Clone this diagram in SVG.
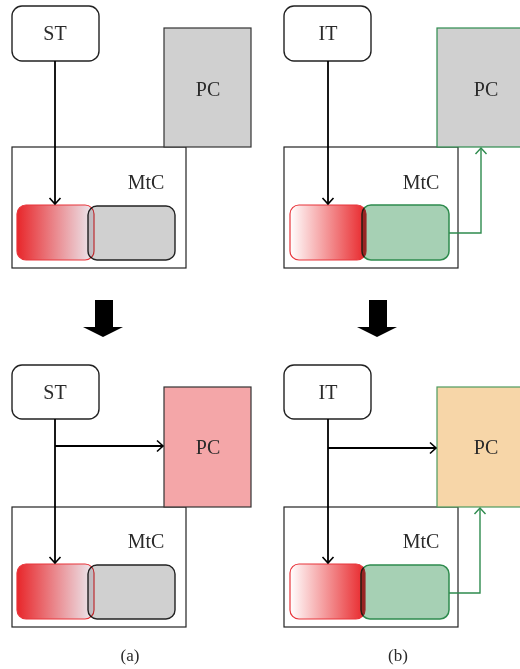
<svg xmlns="http://www.w3.org/2000/svg" width="520" height="669" viewBox="0 0 520 669">
<style>
text{font-family:"Liberation Serif","Times New Roman",serif;fill:#2a2a2a;text-anchor:middle}
.lbl{font-size:20px}
.node{fill:#fff;stroke:#222;stroke-width:1.4}
.mtc{fill:#fff;stroke:#222;stroke-width:1.2}
.pcg{fill:#d0d0d0;stroke:#333;stroke-width:1.2}
.red{stroke:#e8343a;stroke-width:1.2}
.gray{fill:#d0d0d0;stroke:#222;stroke-width:1.4;mix-blend-mode:multiply}
.green{fill:#a6d0b4;stroke:#2e8b4e;stroke-width:1.5;mix-blend-mode:multiply}
.blk{fill:none;stroke:#000;stroke-width:1.8}
.grn{fill:none;stroke:#2e8b4e;stroke-width:1.4}
.big{fill:#000}
</style>
<defs>
<linearGradient id="gA" x1="0" x2="1" y1="0" y2="0">
<stop offset="0" stop-color="#e8262a"/>
<stop offset="1" stop-color="#ececf2"/>
</linearGradient>
<linearGradient id="gB" x1="0" x2="1" y1="0" y2="0">
<stop offset="0" stop-color="#ffffff"/>
<stop offset="1" stop-color="#e8262a"/>
</linearGradient>
<marker id="ab" markerWidth="14" markerHeight="14" refX="10" refY="7" orient="auto" markerUnits="userSpaceOnUse">
<path d="M4,1.5 L10,7 L4,12.5" fill="none" stroke="#000" stroke-width="1.6"/>
</marker>
<marker id="ag" markerWidth="14" markerHeight="14" refX="10" refY="7" orient="auto" markerUnits="userSpaceOnUse">
<path d="M4,1.5 L10,7 L4,12.5" fill="none" stroke="#2e8b4e" stroke-width="1.4"/>
</marker>
</defs>

<!-- Panel (a) top -->
<g id="a1-mtc"><rect class="mtc" x="12" y="147" width="174" height="121"/><text class="lbl" x="146" y="189">MtC</text></g>
<g id="a1-pc"><rect class="pcg" x="164" y="28" width="87" height="119"/><text class="lbl" x="208" y="96">PC</text></g>
<g id="a1-st"><rect class="node" x="12" y="6" width="87" height="55" rx="10"/><text class="lbl" x="55" y="40">ST</text></g>
<g id="a1-red"><rect class="red" x="17" y="205" width="77" height="55" rx="9" fill="url(#gA)"/></g>
<g id="a1-gray"><rect class="gray" x="88" y="206" width="87" height="54" rx="9"/></g>

<!-- Panel (b) top -->
<g id="b1-mtc"><rect class="mtc" x="284" y="147" width="174" height="121"/><text class="lbl" x="421" y="189">MtC</text></g>
<g id="b1-pc"><rect x="437" y="28" width="90" height="119" fill="#d0d0d0" stroke="#2e8b4e" stroke-width="1.2"/><text class="lbl" x="486" y="96">PC</text></g>
<g id="b1-it"><rect class="node" x="284" y="6" width="87" height="55" rx="10"/><text class="lbl" x="328" y="40">IT</text></g>
<g id="b1-red"><rect class="red" x="290" y="205" width="76" height="55" rx="9" fill="url(#gB)"/></g>
<g id="b1-green"><rect class="green" x="362" y="205" width="87" height="55" rx="9"/></g>

<!-- Big arrows -->
<g id="bigarrow-a"><path class="big" d="M95,300 H113 V327 H123 L103,337 L83,327 H95 Z"/></g>
<g id="bigarrow-b"><path class="big" d="M369,300 H387 V327 H397 L377,337 L357,327 H369 Z"/></g>

<!-- Panel (a) bottom -->
<g id="a2-mtc"><rect class="mtc" x="12" y="507" width="174" height="120"/><text class="lbl" x="146" y="548">MtC</text></g>
<g id="a2-pc"><rect x="164" y="387" width="87" height="120" fill="#f4a6a8" stroke="#333" stroke-width="1.2"/><text class="lbl" x="208" y="454">PC</text></g>
<g id="a2-st"><rect class="node" x="12" y="365" width="87" height="54" rx="10"/><text class="lbl" x="55" y="399">ST</text></g>
<g id="a2-red"><rect class="red" x="17" y="564" width="77" height="55" rx="9" fill="url(#gA)"/></g>
<g id="a2-gray"><rect class="gray" x="88" y="565" width="87" height="54" rx="9"/></g>

<!-- Panel (b) bottom -->
<g id="b2-mtc"><rect class="mtc" x="284" y="507" width="174" height="120"/><text class="lbl" x="421" y="548">MtC</text></g>
<g id="b2-pc"><rect x="437" y="387" width="90" height="120" fill="#f7d6a8" stroke="#4e9a5e" stroke-width="1.2"/><text class="lbl" x="486" y="454">PC</text></g>
<g id="b2-it"><rect class="node" x="284" y="365" width="87" height="54" rx="10"/><text class="lbl" x="328" y="399">IT</text></g>
<g id="b2-red"><rect class="red" x="290" y="564" width="75" height="55" rx="9" fill="url(#gB)"/></g>
<g id="b2-green"><rect class="green" x="361" y="565" width="88" height="54" rx="9"/></g>

<!-- Connectors -->
<g id="connectors">
<path class="blk" d="M55,61 V204" marker-end="url(#ab)"/>
<path class="blk" d="M328,61 V204" marker-end="url(#ab)"/>
<path class="grn" d="M449,233 H481 V148" marker-end="url(#ag)"/>
<path class="blk" d="M55,419 V563" marker-end="url(#ab)"/>
<path class="blk" d="M55,446 H163" marker-end="url(#ab)"/>
<path class="blk" d="M328,419 V563" marker-end="url(#ab)"/>
<path class="blk" d="M328,448 H436" marker-end="url(#ab)"/>
<path class="grn" d="M449,593 H480 V508" marker-end="url(#ag)"/>
</g>

<text x="130" y="661" style="font-size:17px">(a)</text>
<text x="398" y="661" style="font-size:17px">(b)</text>
</svg>
